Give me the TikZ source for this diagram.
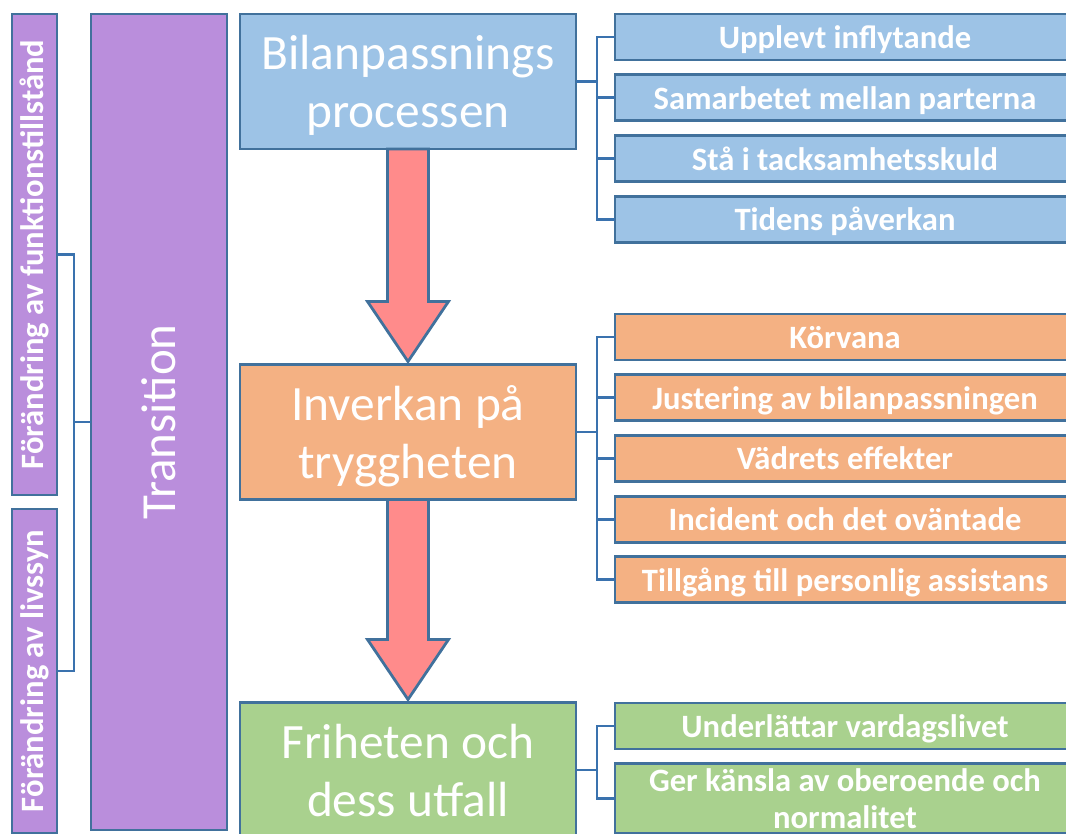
\documentclass[tikz,border=0pt]{standalone}
\usepackage{fontspec}
\setmainfont{Carlito}
\usetikzlibrary{positioning, calc}
\definecolor{edge}{HTML}{41719C}
\definecolor{link}{HTML}{3A72AE}
\definecolor{bluefill}{HTML}{9DC3E6}
\definecolor{orangefill}{HTML}{F4B183}
\definecolor{greenfill}{HTML}{A9D18E}
\definecolor{purplefill}{HTML}{BA8EDC}
\definecolor{arrowfill}{HTML}{FF8B8B}
\tikzset{
    box/.style={draw=edge, line width=2.8pt, text=white, align=center,
                inner sep=0pt, outer sep=0pt},
    mainbox/.style={box, minimum width=336pt, minimum height=135pt, text depth=0pt,
                font=\fontsize{49.4}{58}\selectfont},
    subbox/.style={box, minimum width=460pt, minimum height=46pt, text depth=0pt,
                font=\bfseries\fontsize{32.6}{37}\selectfont},
    sidebox/.style={box, fill=purplefill, rotate=90, minimum height=45pt,
                font=\bfseries\fontsize{32.6}{36}\selectfont},
    conn/.style={draw=link, line width=2.8pt},
    fatarr/.style={draw=edge, line width=2.8pt, fill=arrowfill, line join=miter},
}
% broad arrow from the bottom of #1 to the top of #2
\newcommand{\fatarrow}[2]{%
    \draw[fatarr] ($(#1.south)+(-20.5,0)$) -- ($(#2.north)+(-20.5,-63)$)
        -- ($(#2.north)+(-40.5,-63)$) -- ($(#2.north)+(0,-3)$)
        -- ($(#2.north)+(40.5,-63)$) -- ($(#2.north)+(20.5,-63)$)
        -- ($(#1.south)+(20.5,0)$) -- cycle;}

\begin{document}
\begin{tikzpicture}[x=1pt, y=-1pt, node distance=14.7pt]
    \useasboundingbox (0,0) rectangle (1066,833);
    \clip (0,0) rectangle (1066,833);
    % left columns
    \node[sidebox, minimum width=481pt] (funk) at (34.5,254.5) {Förändring av funktionstillstånd};
    \node[sidebox, minimum width=324pt] (livs) at (34.5,671) {Förändring av livssyn};
    \node[sidebox, minimum width=816pt, minimum height=136pt,
          font=\fontsize{49}{58}\selectfont] (trans) at (159,422) {Transition};
    \draw[conn] (funk.south) -- ++(17,0) |- (trans.north);
    \draw[conn] (livs.south) -- ++(17,0) |- (trans.north);
    % main column
    \node[mainbox, fill=bluefill] (bilan) at (408,81.5) {Bilanpassnings\\processen};
    \node[mainbox, fill=orangefill] (inverkan) at (408,432) {Inverkan på\\tryggheten};
    \node[mainbox, fill=greenfill] (frihet) at (408,770) {Friheten och\\dess utfall};
    \fatarrow{bilan}{inverkan}
    \fatarrow{inverkan}{frihet}
    % right column
    \node[subbox, fill=bluefill] (infl) at (845,37) {Upplevt inflytande};
    \node[subbox, fill=bluefill, below=of infl] (samarb) {Samarbetet mellan parterna};
    \node[subbox, fill=bluefill, below=of samarb] (tack) {Stå i tacksamhetsskuld};
    \node[subbox, fill=bluefill, below=of tack] (tid) {Tidens påverkan};
    \node[subbox, fill=orangefill] (korv) at (845,337) {Körvana};
    \node[subbox, fill=orangefill, below=of korv] (just) {Justering av bilanpassningen};
    \node[subbox, fill=orangefill, below=of just] (vader) {Vädrets effekter};
    \node[subbox, fill=orangefill, below=of vader] (incid) {Incident och det oväntade};
    \node[subbox, fill=orangefill, below=of incid] (assist) {Tillgång till personlig assistans};
    \node[subbox, fill=greenfill] (vardag) at (845,726) {Underlättar vardagslivet};
    \node[subbox, fill=greenfill, minimum height=70pt, below=of vardag] (obero)
        {Ger känsla av oberoende och\\normalitet};
    \foreach \c in {infl,samarb,tack,tid}
        \draw[conn] (bilan.east) -- ++(21,0) |- (\c.west);
    \foreach \c in {korv,just,vader,incid,assist}
        \draw[conn] (inverkan.east) -- ++(21,0) |- (\c.west);
    \foreach \c in {vardag,obero}
        \draw[conn] (frihet.east) -- ++(21,0) |- (\c.west);
\end{tikzpicture}
\end{document}
